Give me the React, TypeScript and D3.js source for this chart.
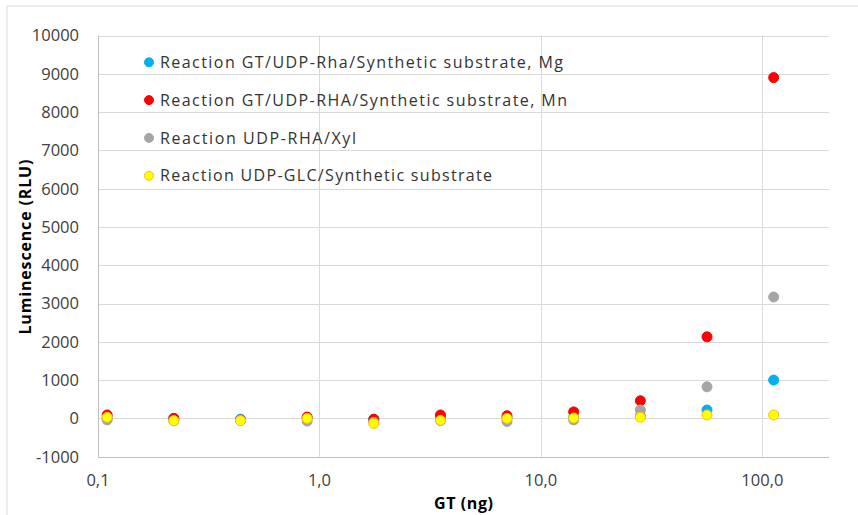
import React from 'react';
import * as d3 from 'd3';

// GT amount (ng), two-fold dilution series
const gtNg = [0.11, 0.22, 0.44, 0.88, 1.76, 3.52, 7.03, 14.06, 28.13, 56.25, 112.5];

const mgValues = [10, 0, -20, 10, -30, 20, 10, 30, 60, 220, 1000];
const mnValues = [90, 0, -40, 35, -20, 90, 70, 170, 460, 2130, 8900];
const xylValues = [-40, -60, -50, -70, -100, -60, -80, -40, 220, 825, 3170];
const glcValues = [30, -60, -60, 0, -130, -50, 0, 10, 30, 90, 90];

const seriesNames = [
  'Reaction GT/UDP-Rha/Synthetic substrate, Mg',
  'Reaction GT/UDP-RHA/Synthetic substrate, Mn',
  'Reaction UDP-RHA/Xyl',
  'Reaction UDP-GLC/Synthetic substrate',
];

const yTicks = [-1000, 0, 1000, 2000, 3000, 4000, 5000, 6000, 7000, 8000, 9000, 10000];
const xTicks = [0.1, 1, 10, 100];
const xTickLabels = ['0,1', '1,0', '10,0', '100,0'];

const series = [
  { name: seriesNames[0], values: mgValues, fill: '#00B0F0', stroke: '#00B0F0', legendWidth: 403 },
  { name: seriesNames[1], values: mnValues, fill: '#FF0000', stroke: '#FF0000', legendWidth: 407 },
  { name: seriesNames[2], values: xylValues, fill: '#A5A5A5', stroke: '#A5A5A5', legendWidth: 196 },
  { name: seriesNames[3], values: glcValues, fill: '#FFFF00', stroke: '#FFC000', legendWidth: 332 },
];

const width = 858;
const height = 515;
const font = '"Open Sans", "DejaVu Sans", sans-serif';

export default function App() {
  const x = d3.scaleLog().domain([0.1, 200]).range([98, 829]);
  const y = d3.scaleLinear().domain([-1000, 10000]).range([456.7, 35.5]);
  const [x0, x1] = x.range();
  const [yb, yt] = y.range();

  return (
    <svg width={width} height={height} style={{ position: 'absolute', left: 0, top: 0, background: '#fff' }}>
      <rect x={7} y={6} width={900} height={600} fill="#fff" stroke="#D9D9D9" strokeWidth={1} />

      {/* horizontal grid */}
      {yTicks.map(t => (
        <line key={'h' + t} x1={x0} x2={x1} y1={Math.round(y(t)) + 0.5} y2={Math.round(y(t)) + 0.5}
          stroke="#D9D9D9" strokeWidth={1} />
      ))}
      {/* vertical grid */}
      {xTicks.map(t => (
        <line key={'v' + t} x1={Math.round(x(t)) + 0.5} x2={Math.round(x(t)) + 0.5} y1={yt} y2={yb}
          stroke="#D9D9D9" strokeWidth={1} />
      ))}
      <line x1={x0} x2={x1} y1={Math.round(yb) + 0.5} y2={Math.round(yb) + 0.5} stroke="#BFBFBF" />
      <line x1={Math.round(x0) + 0.5} x2={Math.round(x0) + 0.5} y1={yt} y2={yb} stroke="#BFBFBF" />

      {/* y tick labels */}
      {yTicks.map(t => (
        <text key={'yl' + t} x={79} y={y(t)} dy="0.36em" textAnchor="end" fontFamily={font}
          fontSize={16.5} fill="#404040">{t}</text>
      ))}
      {/* x tick labels */}
      {xTicks.map((t, i) => (
        <text key={'xl' + t} x={x(t)} y={486} textAnchor="middle" fontFamily={font}
          fontSize={16.5} fill="#404040">{xTickLabels[i]}</text>
      ))}

      {/* axis titles */}
      <text x={(x0 + x1) / 2 - 29.5} y={509} fontFamily={font} fontSize={16}
        fontWeight="bold" fill="#000" textLength={59} lengthAdjust="spacing">GT (ng)</text>
      <text transform={`translate(31,${(yt + yb) / 2 + 1}) rotate(-90)`} x={-87.5} fontFamily={font}
        fontSize={16} fontWeight="bold" fill="#000" textLength={175} lengthAdjust="spacing">Luminescence (RLU)</text>

      {/* points */}
      {series.map(s => (
        <g key={s.name}>
          {s.values.map((v, i) => (
            <circle key={i} cx={x(gtNg[i])} cy={y(v)} r={5} fill={s.fill} stroke={s.stroke} strokeWidth={1} />
          ))}
        </g>
      ))}

      {/* legend */}
      {series.map((s, i) => {
        const ly = 62.3 + i * 37.8;
        return (
          <g key={'lg' + i}>
            <circle cx={149} cy={ly} r={4.5} fill={s.fill} stroke={s.stroke} strokeWidth={1} />
            <text x={160} y={ly} dy="0.36em" fontFamily={font} fontSize={16} fill="#333333"
              textLength={s.legendWidth} lengthAdjust="spacing">{s.name}</text>
          </g>
        );
      })}
    </svg>
  );
}
